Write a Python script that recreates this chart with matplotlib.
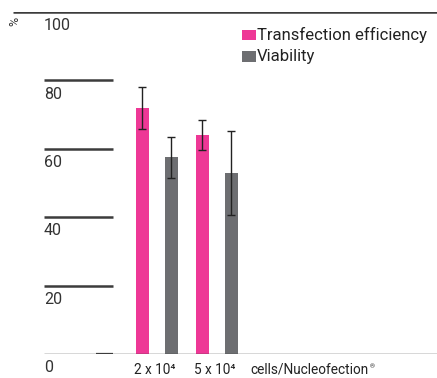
import matplotlib
matplotlib.use("Agg")
import matplotlib.pyplot as plt

plt.rcParams['font.family'] = ['Roboto', 'DejaVu Sans']

groups = ['2 x 10\u2074', '5 x 10\u2074']
series = ['Transfection efficiency', 'Viability']
transfection = [72, 64]
transfection_err = [6.2, 4.4]
viability = [57.5, 53]
viability_err = [6.0, 12.3]
yticks = [0, 20, 40, 60, 80, 100]

pink = '#EE3896'
gray = '#6D6E71'
line_c = '#3c3c3c'

fig = plt.figure(figsize=(4.37, 3.78), dpi=100)
ax = fig.add_axes([0, 24 / 378, 1, 342 / 378])
ax.set_xlim(0, 437)
ax.set_ylim(0, 100)
ax.axis('off')

centers = [156, 216]
off = 14
w = 13
for i, c in enumerate(centers):
    ax.bar(c - off, transfection[i], width=w, color=pink, zorder=2)
    ax.bar(c + off + 1, viability[i], width=w, color=gray, zorder=2)
    ax.errorbar(c - off, transfection[i], yerr=transfection_err[i], fmt='none',
                ecolor='#222222', elinewidth=1, capsize=3, capthick=1, zorder=3)
    ax.errorbar(c + off + 1, viability[i], yerr=viability_err[i], fmt='none',
                ecolor='#222222', elinewidth=1, capsize=3, capthick=1, zorder=3)
    ax.text(c - 1.5, -2.6, groups[i], ha='center', va='top', fontsize=9.8,
            color='#222222')

# gridlines + labels
for t in yticks:
    if t == 100:
        ax.plot([13, 437], [t, t], color=line_c, lw=1.8, solid_capstyle='butt')
    elif t == 0:
        ax.plot([44, 437], [t, t], color=line_c, lw=1.0, solid_capstyle='butt')
        ax.plot([96, 113], [t, t], color=line_c, lw=1.6, solid_capstyle='butt')
    else:
        ax.plot([44, 113], [t, t], color=line_c, lw=1.8, solid_capstyle='butt')
    ax.text(44, t - 1.8, str(t), ha='left', va='top', fontsize=11.5,
            color='#333333')

ax.text(15, 100 - 1.5, '%', rotation=90, ha='center', va='top', fontsize=9,
        color='#333333')

cells = ax.text(250, -2.6, 'cells/Nucleofection', ha='left', va='top',
                fontsize=9.8, color='#222222')
ax.annotate('\u00ae', xy=(1, 1), xycoords=cells, xytext=(1, -1),
            textcoords='offset points', ha='left', va='top', fontsize=4.5,
            color='#222222')

# legend
ly = [93.3, 87.0]
for y, name, col in zip(ly, series, [pink, gray]):
    ax.bar(249, 3.0, width=14, bottom=y - 1.5, color=col)
    ax.text(257, y, name, ha='left', va='center', fontsize=12, color='#222222')

fig.savefig('out.png', dpi=100)
